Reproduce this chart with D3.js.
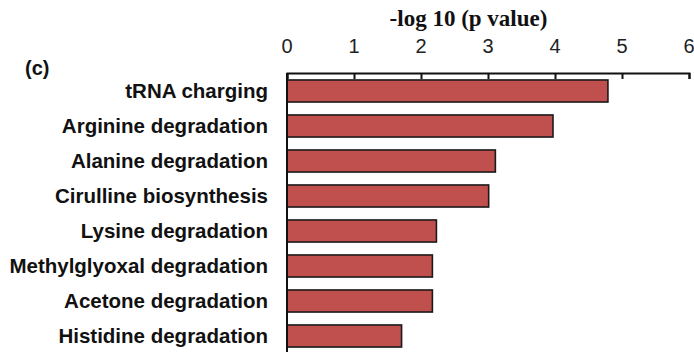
<!DOCTYPE html>
<html>
<head>
<meta charset="utf-8">
<script src="https://cdn.jsdelivr.net/npm/d3@7/dist/d3.min.js"></script>
<style>
  html, body { margin: 0; padding: 0; background: #fff; }
  svg { display: block; }
</style>
</head>
<body>
<svg id="chart" width="694" height="352"></svg>
<script>
// Enriched pathways and their significance scores
const pathways = [
  "tRNA charging",
  "Arginine degradation",
  "Alanine degradation",
  "Cirulline biosynthesis",
  "Lysine degradation",
  "Methylglyoxal degradation",
  "Acetone degradation",
  "Histidine degradation"
];
const negLogP = [4.79, 3.97, 3.11, 3.01, 2.23, 2.17, 2.17, 1.71];
const tickValues = [0, 1, 2, 3, 4, 5, 6];
const axisTitle = "-log 10 (p value)";
const panelLabel = "(c)";

const svg = d3.select("#chart");
const plotLeft = 287, plotRight = 689, plotTop = 73, plotBottom = 352;

const x = d3.scaleLinear().domain([0, 6]).range([plotLeft, plotRight]);
const y = d3.scaleBand()
  .domain(pathways)
  .range([plotTop + 0.5, plotTop + 0.5 + 35 * pathways.length])
  .paddingInner(0.37)
  .paddingOuter(0.185);

// Bars
svg.append("g")
  .selectAll("rect")
  .data(pathways)
  .join("rect")
  .attr("x", x(0))
  .attr("y", d => y(d))
  .attr("width", (d, i) => x(negLogP[i]) - x(0))
  .attr("height", y.bandwidth())
  .attr("fill", "#c0504d")
  .attr("stroke", "#1a1a1a")
  .attr("stroke-width", 1.6);

// Top axis with inward ticks
const axis = svg.append("g")
  .attr("transform", `translate(0,${plotTop})`)
  .call(d3.axisTop(x).tickValues(tickValues).tickSizeInner(-6).tickSizeOuter(-6).tickPadding(0).tickFormat(""));
axis.select(".domain").attr("stroke", "#111").attr("stroke-width", 2);
axis.selectAll(".tick line").attr("stroke", "#111").attr("stroke-width", 2);

// Tick labels
svg.append("g")
  .selectAll("text")
  .data(tickValues)
  .join("text")
  .attr("x", d => x(d))
  .attr("y", 52.5)
  .attr("text-anchor", "middle")
  .attr("font-family", "Liberation Sans, Arial, sans-serif")
  .attr("font-size", 20)
  .attr("fill", "#222")
  .text(d => d);

// Vertical axis line
svg.append("line")
  .attr("x1", plotLeft).attr("x2", plotLeft)
  .attr("y1", plotTop).attr("y2", plotBottom)
  .attr("stroke", "#111").attr("stroke-width", 2);

// Category labels
svg.append("g")
  .selectAll("text")
  .data(pathways)
  .join("text")
  .attr("x", 268)
  .attr("y", d => y(d) + y.bandwidth() / 2)
  .attr("dy", "0.36em")
  .attr("text-anchor", "end")
  .attr("font-family", "Liberation Sans, Arial, sans-serif")
  .attr("font-weight", "bold")
  .attr("font-size", 20.5)
  .attr("fill", "#111")
  .text(d => d);

// Axis title
svg.append("text")
  .attr("x", 468.5)
  .attr("y", 26)
  .attr("text-anchor", "middle")
  .attr("font-family", "Liberation Serif, Times New Roman, serif")
  .attr("font-weight", "bold")
  .attr("font-size", 23)
  .attr("fill", "#111")
  .text(axisTitle);

// Panel label
svg.append("text")
  .attr("x", 25)
  .attr("y", 75)
  .attr("font-family", "Liberation Sans, Arial, sans-serif")
  .attr("font-weight", "bold")
  .attr("font-size", 20)
  .attr("fill", "#111")
  .text(panelLabel);
</script>
</body>
</html>
